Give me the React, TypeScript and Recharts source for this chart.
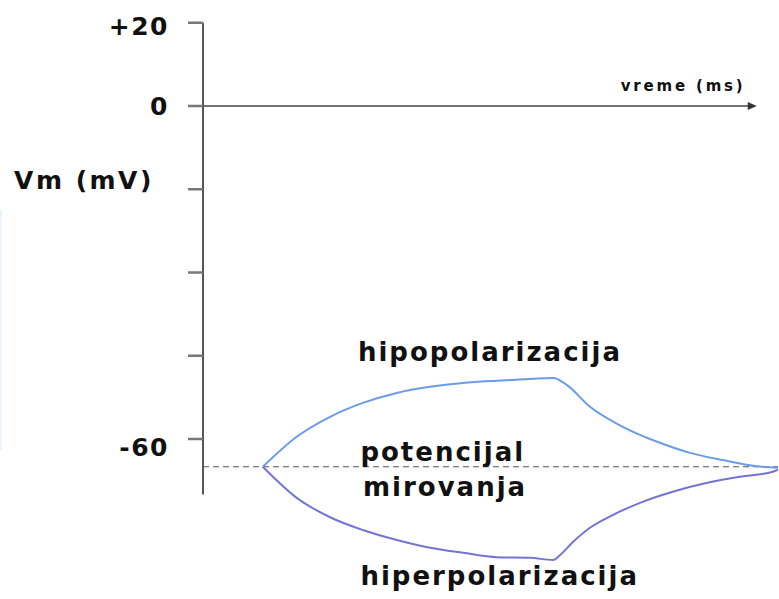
import React from "react";
import {
  ComposedChart,
  Line,
  XAxis,
  YAxis,
  ReferenceLine,
  ReferenceDot,
} from "recharts";

// time (ms) and membrane potential (mV)
const HIPO_T = [10.4, 16.3, 22.1, 27.8, 33.7, 39.5, 45.2, 51.1, 56.9, 60.9, 63.3, 67.3, 73.0, 79.0, 84.7, 90.4, 96.3, 100];
const HIPO_V = [-65, -59.6, -56.0, -53.5, -51.7, -50.6, -49.9, -49.5, -49.2, -49.0, -50.3, -54.2, -57.8, -60.5, -62.5, -63.8, -64.9, -65.2];

const HIPER_T = [10.4, 16.3, 22.1, 27.8, 33.7, 39.5, 45.2, 51.1, 56.9, 60.9, 62.1, 64.3, 67.3, 70.3, 76.0, 81.7, 87.7, 93.4, 99.1, 100];
const HIPER_V = [-65, -70.6, -74.1, -76.4, -78.2, -79.6, -80.5, -81.3, -81.4, -81.8, -80.9, -78.6, -76.0, -74.2, -71.5, -69.5, -67.9, -66.8, -65.9, -65.5];

const REST_V = -65;
const Y_TICKS = [15, 0, -15, -30, -45, -60];
const Y_TICK_LABELS = ["+20", "0", "", "", "", "-60"];
const Y_TICK_DY = [4, 0, 0, 0, 0, 8];

const hipoData = HIPO_T.map((t, i) => ({ t, v: HIPO_V[i] }));
const hiperData = HIPER_T.map((t, i) => ({ t, v: HIPER_V[i] }));

const FONT = "'DejaVu Sans', Verdana, sans-serif";
const INK = "#111";

const textShape =
  (label: string, size: number, spacing: number) =>
  (p: any) => (
    <text
      x={p.cx}
      y={p.cy}
      textAnchor="middle"
      dominantBaseline="central"
      fontFamily={FONT}
      fontWeight="bold"
      fontSize={size}
      letterSpacing={spacing}
      fill={INK}
    >
      {label}
    </text>
  );

const arrowShape = (p: any) => (
  <polygon
    points={`${p.cx},${p.cy} ${p.cx - 9},${p.cy - 4} ${p.cx - 9},${p.cy + 4}`}
    fill="#333"
  />
);

const YTick = (props: any) => {
  const { x, y, payload } = props;
  const idx = Y_TICKS.indexOf(payload.value);
  const label = Y_TICK_LABELS[idx] ?? "";
  if (!label) return <g />;
  return (
    <text
      x={x}
      y={y + (Y_TICK_DY[idx] ?? 0)}
      textAnchor="end"
      dominantBaseline="central"
      fontFamily={FONT}
      fontWeight="bold"
      fontSize={25}
      letterSpacing={1.5}
      fill={INK}
    >
      {label}
    </text>
  );
};

export default function App() {
  return (
    <div style={{ position: "absolute", left: 0, top: 0, width: 779, height: 599, background: "#fff" }}>
      <div style={{ position: "absolute", left: 0, top: 210, width: 2, height: 240, background: "#eaf4ff" }} />
      <ComposedChart
        width={779}
        height={599}
        margin={{ top: 11.65, right: 1, bottom: 4.6, left: 143 }}
      >
        <XAxis type="number" dataKey="t" domain={[0, 100]} hide allowDuplicatedCategory={false} />
        <YAxis
          type="number"
          domain={[-88, 17]}
          ticks={Y_TICKS}
          width={60}
          axisLine={false}
          tickSize={15}
          tickMargin={19}
          tickLine={{ stroke: "#777", strokeWidth: 2.5 }}
          tick={<YTick />}
          interval={0}
        />
        <ReferenceLine
          segment={[{ x: 0, y: 15 }, { x: 0, y: -70 }]}
          stroke="#555"
          strokeWidth={2}
        />
        <ReferenceLine
          segment={[{ x: 0, y: 0 }, { x: 95, y: 0 }]}
          stroke="#444"
          strokeWidth={1.5}
        />
        <ReferenceDot x={96.3} y={0} r={4} shape={arrowShape} />
        <ReferenceLine
          segment={[{ x: 0, y: REST_V }, { x: 100, y: REST_V }]}
          stroke="#555"
          strokeWidth={1.2}
          strokeDasharray="6 4"
        />
        <Line
          data={hipoData}
          dataKey="v"
          type="monotone"
          stroke="#6a9ce8"
          strokeWidth={2}
          dot={false}
          isAnimationActive={false}
        />
        <Line
          data={hiperData}
          dataKey="v"
          type="monotone"
          stroke="#7474d4"
          strokeWidth={2}
          dot={false}
          isAnimationActive={false}
        />
        <ReferenceDot x={83.5} y={3.6} r={1} ifOverflow="visible" shape={textShape("vreme (ms)", 15, 2.8)} />
        <ReferenceDot x={-20.7} y={-13.5} r={1} ifOverflow="visible" shape={textShape("Vm (mV)", 25, 2.5)} />
        <ReferenceDot x={49.9} y={-44.4} r={1} ifOverflow="visible" shape={textShape("hipopolarizacija", 26, 2)} />
        <ReferenceDot x={41.7} y={-62.3} r={1} ifOverflow="visible" shape={textShape("potencijal", 26, 2)} />
        <ReferenceDot x={42.1} y={-68.6} r={1} ifOverflow="visible" shape={textShape("mirovanja", 26, 2)} />
        <ReferenceDot x={51.6} y={-84.7} r={1} ifOverflow="visible" shape={textShape("hiperpolarizacija", 26, 2)} />
      </ComposedChart>
    </div>
  );
}
